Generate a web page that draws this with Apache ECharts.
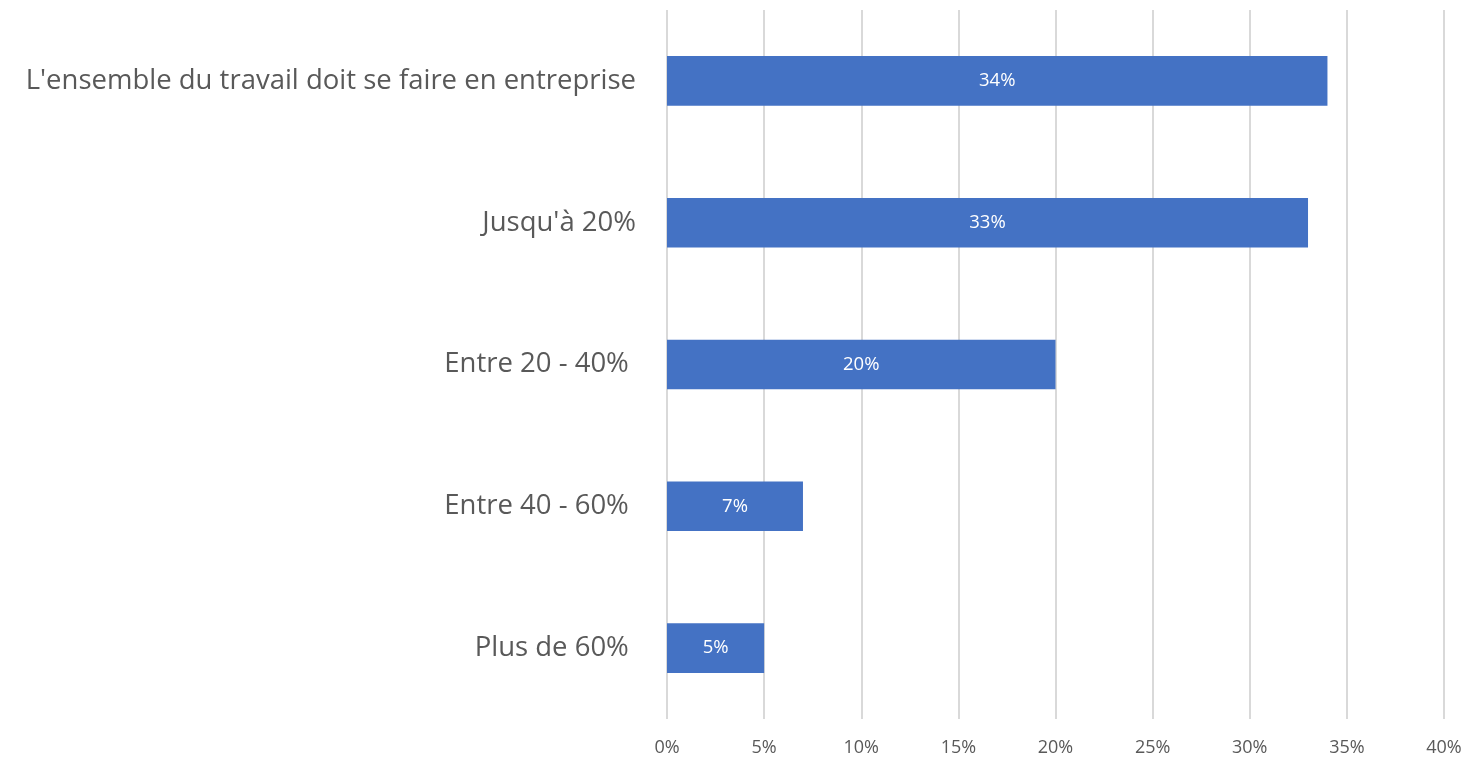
<!DOCTYPE html>
<html>
<head>
<meta charset="utf-8">
<script src="https://cdn.jsdelivr.net/npm/echarts@6/dist/echarts.min.js"></script>
<style>
  html, body { margin: 0; padding: 0; background: #fff; }
  #chart { width: 1473px; height: 760px; }
</style>
</head>
<body>
<div id="chart"></div>
<script>
// Share of work that must be done on site, top to bottom
const categories = [
  "L'ensemble du travail doit se faire en entreprise",
  "Jusqu'à 20%",
  "Entre 20 - 40% ",
  "Entre 40 - 60% ",
  "Plus de 60% "
];
const values = [34, 33, 20, 7, 5];
const tickMax = 40;
const tickStep = 5;

const chart = echarts.init(document.getElementById('chart'));
const fontFamily = "'Open Sans', 'Noto Sans', sans-serif";

chart.setOption({
  animation: false,
  grid: { left: 667, right: 29, top: 10, bottom: 41, containLabel: false },
  xAxis: {
    type: 'value',
    min: 0,
    max: tickMax,
    interval: tickStep,
    axisLine: { show: false },
    axisTick: { show: false },
    splitLine: { show: true, lineStyle: { color: '#D9D9D9', width: 2 } },
    axisLabel: {
      formatter: v => v + '%',
      color: '#595959',
      fontSize: 18,
      fontFamily,
      margin: 20
    }
  },
  yAxis: {
    type: 'category',
    data: categories,
    inverse: true,
    axisLine: { show: false },
    axisTick: { show: false },
    splitLine: { show: false },
    axisLabel: {
      color: '#595959',
      fontSize: 27.5,
      fontFamily,
      margin: 31
    }
  },
  series: [{
    type: 'bar',
    data: values,
    barWidth: '35%',
    itemStyle: { color: '#4472C4' },
    label: {
      show: true,
      position: 'inside',
      formatter: p => p.value + '%',
      color: '#fff',
      fontSize: 18.5,
      fontFamily
    }
  }]
});
</script>
</body>
</html>
